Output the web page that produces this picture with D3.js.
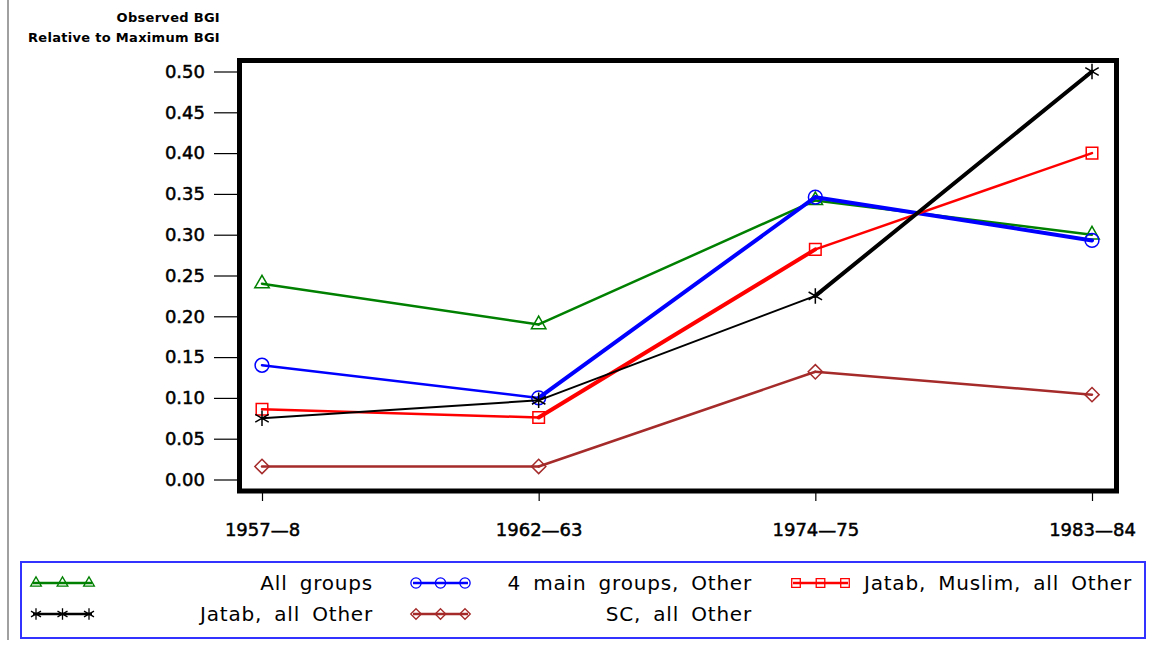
<!DOCTYPE html>
<html>
<head>
<meta charset="utf-8">
<script src="https://cdn.jsdelivr.net/npm/d3@7"></script>
<style>
  body { margin: 0; background: #fff; }
  svg { display: block; }
</style>
</head>
<body>
<svg id="chart"></svg>
<script>
// periods on the x axis
var periods = ["1957\u20148", "1962\u201463", "1974\u201475", "1983\u201484"];
var yTicks = [0, 0.05, 0.10, 0.15, 0.20, 0.25, 0.30, 0.35, 0.40, 0.45, 0.50];

var seriesNames = ["All groups", "4 main groups, Other", "Jatab, Muslim, all Other", "Jatab, all Other", "SC, all Other"];
var allGroups   = [0.240, 0.190, 0.342, 0.300];
var mainGroups  = [0.140, 0.100, 0.346, 0.293];
var jatabMuslim = [0.086, 0.076, 0.282, 0.400];
var jatabOther  = [0.075, 0.097, 0.225, 0.500];
var scOther     = [0.016, 0.016, 0.132, 0.104];

// styling, kept apart from the values
var colors  = ["#008000", "#0000ff", "#ff0000", "#000000", "#a52a2a"];
var symbols = [d3.symbolTriangle2, d3.symbolCircle, d3.symbolSquare2, d3.symbolAsterisk, d3.symbolDiamond2];
var symSize = [150, 150, 170, 170, 130];
var segWidths = [[2.5, 2.5, 2.5], [2.5, 4, 4], [2.5, 4, 2.5], [2, 2, 4], [2.5, 2.5, 2.5]];

var series = [allGroups, mainGroups, jatabMuslim, jatabOther, scOther].map(function (vals, i) {
    return { name: seriesNames[i], values: vals, color: colors[i], symbol: symbols[i], size: symSize[i], widths: segWidths[i] };
});

var W = 1151, H = 646;
var svg = d3.select('#chart').attr('width', W).attr('height', H);

var x = d3.scalePoint().domain(periods).range([262, 1092]);
var y = d3.scaleLinear().domain([0, 0.5]).range([479.5, 71.5]);

var tickFont = "DejaVu Sans, sans-serif";

// grey rule at the left edge
svg.append('line')
    .attr('x1', 8).attr('x2', 8).attr('y1', 0).attr('y2', 640)
    .style('stroke', '#808080').style('stroke-width', 1.5);

// axis title
svg.append('text')
    .attr('x', 220).attr('y', 22)
    .attr('text-anchor', 'end')
    .style('font-family', tickFont).style('font-size', '13px').style('font-weight', 'bold')
    .style('letter-spacing', '0.3px')
    .text('Observed BGI');
svg.append('text')
    .attr('x', 220).attr('y', 42)
    .attr('text-anchor', 'end')
    .style('font-family', tickFont).style('font-size', '13px').style('font-weight', 'bold')
    .style('letter-spacing', '0.3px')
    .text('Relative to Maximum BGI');

// y axis
var yAxis = d3.axisLeft(y).tickValues(yTicks).tickFormat(d3.format('.2f')).tickSize(23).tickPadding(9);
var gy = svg.append('g').attr('transform', 'translate(237,0)').call(yAxis);
gy.select('.domain').remove();
gy.selectAll('line').style('stroke', '#000').style('stroke-width', 1.2);
gy.selectAll('text').style('font-family', tickFont).style('font-size', '18px')
    .attr('fill', '#000').style('stroke', '#000').style('stroke-width', 0.5);

// x axis
var xAxis = d3.axisBottom(x).tickSize(8).tickPadding(22);
var gx = svg.append('g').attr('transform', 'translate(0,493)').call(xAxis);
gx.select('.domain').remove();
gx.selectAll('line').style('stroke', '#000').style('stroke-width', 1.2);
gx.selectAll('text').style('font-family', tickFont).style('font-size', '18px')
    .attr('fill', '#000').style('stroke', '#000').style('stroke-width', 0.5);

// plot frame
svg.append('rect')
    .attr('x', 239.5).attr('y', 60.5).attr('width', 877).attr('height', 430.5)
    .attr('fill', 'none').style('stroke', '#000').style('stroke-width', 5);

// series lines, drawn segment by segment
series.forEach(function (s) {
    var g = svg.append('g');
    for (var i = 0; i < s.values.length - 1; i++) {
        g.append('line')
            .attr('x1', x(periods[i])).attr('y1', y(s.values[i]))
            .attr('x2', x(periods[i + 1])).attr('y2', y(s.values[i + 1]))
            .style('stroke', s.color).style('stroke-width', s.widths[i])
            .style('stroke-linecap', 'round');
    }
    g.selectAll('path')
        .data(s.values)
        .enter()
        .append('path')
        .attr('d', d3.symbol().type(s.symbol).size(s.size))
        .attr('transform', function (d, i) { return 'translate(' + x(periods[i]) + ',' + y(d) + ')'; })
        .attr('fill', 'none')
        .style('stroke', s.color).style('stroke-width', 1.5);
});

// legend
svg.append('rect')
    .attr('x', 21).attr('y', 562).attr('width', 1124).attr('height', 76)
    .attr('fill', 'none').style('stroke', '#3333ff').style('stroke-width', 2);

var legendPos = [
    { x0: 33, x1: 92, tx: 373, ty: 583 },
    { x0: 413, x1: 468, tx: 752, ty: 583 },
    { x0: 793, x1: 848, tx: 1132, ty: 583 },
    { x0: 33, x1: 92, tx: 373, ty: 614 },
    { x0: 413, x1: 468, tx: 752, ty: 614 }
];

series.forEach(function (s, i) {
    var p = legendPos[i];
    var g = svg.append('g');
    g.append('line')
        .attr('x1', p.x0).attr('x2', p.x1).attr('y1', p.ty).attr('y2', p.ty)
        .style('stroke', s.color).style('stroke-width', 2.5);
    [p.x0 + 3, (p.x0 + p.x1) / 2, p.x1 - 3].forEach(function (mx) {
        g.append('path')
            .attr('d', d3.symbol().type(s.symbol).size(s.size * 0.55))
            .attr('transform', 'translate(' + mx + ',' + p.ty + ')')
            .attr('fill', 'none')
            .style('stroke', s.color).style('stroke-width', 1.3);
    });
    g.append('text')
        .attr('x', p.tx).attr('y', p.ty + 7)
        .attr('text-anchor', 'end')
        .style('font-family', tickFont).style('font-size', '20px')
        .style('letter-spacing', '0.8px').style('word-spacing', '5px')
        .text(s.name);
});
</script>
</body>
</html>
